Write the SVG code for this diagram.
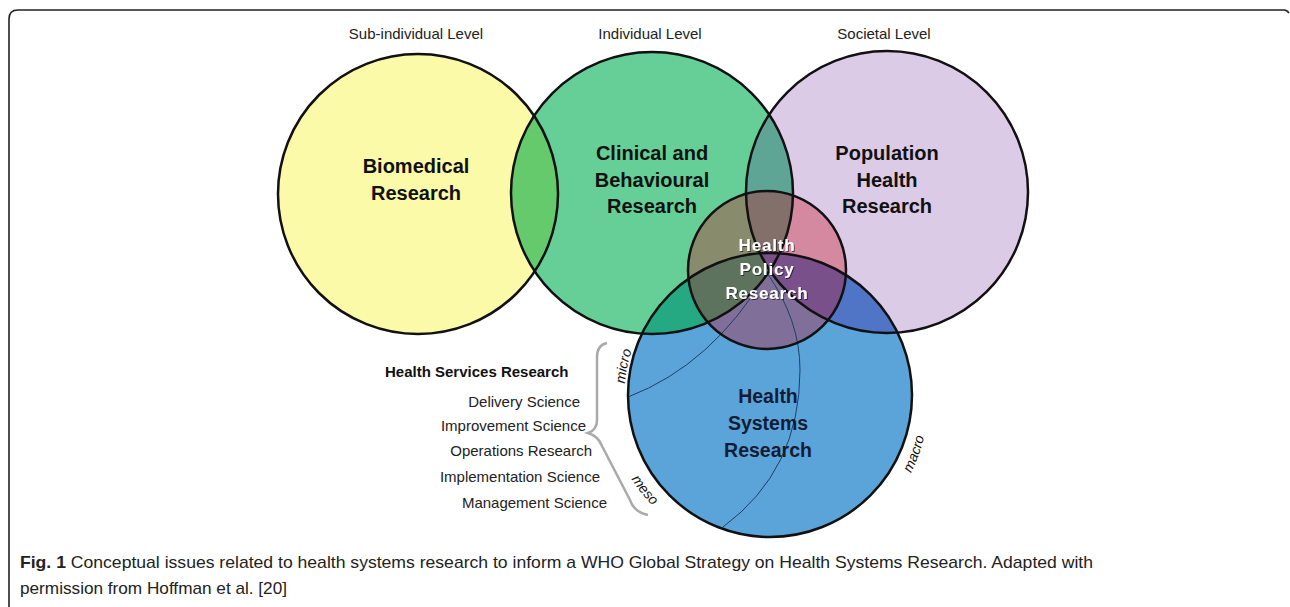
<svg xmlns="http://www.w3.org/2000/svg" width="1290" height="607" viewBox="0 0 1290 607">
  <style>
    .lvl { font-family: "Liberation Sans", Arial, sans-serif; font-size: 15px; fill: #222; text-anchor: middle; }
    .big { font-family: "Liberation Sans", Arial, sans-serif; font-size: 20px; font-weight: bold; fill: #111; text-anchor: middle; }
    .hsr { font-family: "Liberation Sans", Arial, sans-serif; font-size: 19.5px; font-weight: bold; fill: #141c33; text-anchor: middle; }
    .pol { font-family: "Liberation Sans", Arial, sans-serif; font-size: 17px; font-weight: bold; fill: #ffffff; text-anchor: middle; letter-spacing: 0.8px; }
    .list { font-family: "Liberation Sans", Arial, sans-serif; font-size: 15px; fill: #222; text-anchor: end; }
    .listb { font-family: "Liberation Sans", Arial, sans-serif; font-size: 15px; font-weight: bold; fill: #111; }
    .scale { font-family: "Liberation Sans", Arial, sans-serif; font-size: 14px; font-style: italic; fill: #111; }
    .cap { font-family: "Liberation Sans", Arial, sans-serif; font-size: 17px; fill: #222; }
    .ring { fill: none; stroke: #111; stroke-width: 2.5; }
    .thin { fill: none; stroke: #1f3f66; stroke-width: 1; }
  </style>
  <defs>
    <filter id="sh" x="-10%" y="-10%" width="120%" height="130%">
      <feDropShadow dx="1" dy="1" stdDeviation="0.6" flood-color="#000" flood-opacity="0.6"/>
    </filter>
    <clipPath id="cYellow"><circle cx="418" cy="194" r="140"/></clipPath>
    <clipPath id="cGreen"><circle cx="652" cy="193" r="141"/></clipPath>
    <clipPath id="cPurple"><circle cx="887" cy="192" r="141"/></clipPath>
    <path id="pMicro" d="M 624.3 398.9 A 146 146 0 0 1 637.3 336.4"/>
    <path id="pMeso" d="M 622.5 463.0 A 160 160 0 0 0 666.0 518.0"/>
    <path id="pMacro" d="M 903.5 486.0 A 160 160 0 0 0 927.0 422.0"/>
  </defs>
  <rect x="0" y="0" width="1290" height="607" fill="#ffffff"/>
  <path d="M 9 607 L 9 19 Q 9 10 18 10 L 1284 10 Q 1287 10 1289 13" fill="none" stroke="#222" stroke-width="1.6"/>

  <g id="level-labels">
    <text class="lvl" x="416" y="39">Sub-individual Level</text>
    <text class="lvl" x="650" y="39">Individual Level</text>
    <text class="lvl" x="884" y="39">Societal Level</text>
  </g>

  <g id="fills">
    <circle cx="418" cy="194" r="140" fill="#fbfaa8"/>
    <circle cx="652" cy="193" r="141" fill="#66cf98"/>
    <circle cx="887" cy="192" r="141" fill="#dccbe6"/>
    <circle cx="770" cy="395" r="142" fill="#5aa4da"/>
    <circle cx="652" cy="193" r="141" fill="#64ca6c" clip-path="url(#cYellow)"/>
    <circle cx="887" cy="192" r="141" fill="#5fa595" clip-path="url(#cGreen)"/>
    <circle cx="770" cy="395" r="142" fill="#25a982" clip-path="url(#cGreen)"/>
    <circle cx="770" cy="395" r="142" fill="#5074c6" clip-path="url(#cPurple)"/>
    <circle cx="767" cy="270" r="79" fill="rgb(200,15,30)" fill-opacity="0.35"/>
  </g>

  <g id="connectors">
    <path class="thin" d="M 628 397 Q 712 365 767 273"/>
    <path class="thin" d="M 767 273 Q 800 320 800 370 Q 800 470 723 527"/>
  </g>

  <g id="node-biomedical">
    <circle class="ring" cx="418" cy="194" r="140"/>
    <text class="big" x="416" y="173">Biomedical</text>
    <text class="big" x="416" y="200">Research</text>
  </g>
  <g id="node-clinical">
    <circle class="ring" cx="652" cy="193" r="141"/>
    <text class="big" x="652" y="160">Clinical and</text>
    <text class="big" x="652" y="187">Behavioural</text>
    <text class="big" x="652" y="213">Research</text>
  </g>
  <g id="node-population">
    <circle class="ring" cx="887" cy="192" r="141"/>
    <text class="big" x="887" y="160">Population</text>
    <text class="big" x="887" y="187">Health</text>
    <text class="big" x="887" y="213">Research</text>
  </g>
  <g id="node-systems">
    <circle class="ring" cx="770" cy="395" r="142"/>
    <text class="hsr" x="768" y="403">Health</text>
    <text class="hsr" x="768" y="430">Systems</text>
    <text class="hsr" x="768" y="457">Research</text>
    <text class="scale"><textPath href="#pMicro" startOffset="50%" text-anchor="middle">micro</textPath></text>
    <text class="scale"><textPath href="#pMeso" startOffset="50%" text-anchor="middle">meso</textPath></text>
    <text class="scale"><textPath href="#pMacro" startOffset="50%" text-anchor="middle">macro</textPath></text>
  </g>
  <g id="node-policy">
    <circle class="ring" cx="767" cy="270" r="79"/>
    <g filter="url(#sh)">
      <text class="pol" x="767" y="251">Health</text>
      <text class="pol" x="767" y="275">Policy</text>
      <text class="pol" x="767" y="299">Research</text>
    </g>
  </g>

  <g id="node-hsr-list">
    <path d="M 607 343 Q 597 345 597 357 L 597 420 Q 597 430 588 433 Q 598 436 602 446 L 630 500 Q 634 512 648 515" fill="none" stroke="#aaaaaa" stroke-width="2.5"/>
    <text class="listb" x="385" y="377">Health Services Research</text>
    <text class="list" x="580" y="407">Delivery Science</text>
    <text class="list" x="586" y="431">Improvement Science</text>
    <text class="list" x="592" y="456">Operations Research</text>
    <text class="list" x="600" y="482">Implementation Science</text>
    <text class="list" x="607" y="508">Management Science</text>
  </g>

  <g id="caption">
    <text class="cap" x="20" y="568" textLength="1073" lengthAdjust="spacingAndGlyphs"><tspan font-weight="bold">Fig. 1</tspan> Conceptual issues related to health systems research to inform a WHO Global Strategy on Health Systems Research. Adapted with</text>
    <text class="cap" x="20" y="594" textLength="267" lengthAdjust="spacingAndGlyphs">permission from Hoffman et al. [20]</text>
  </g>
</svg>
